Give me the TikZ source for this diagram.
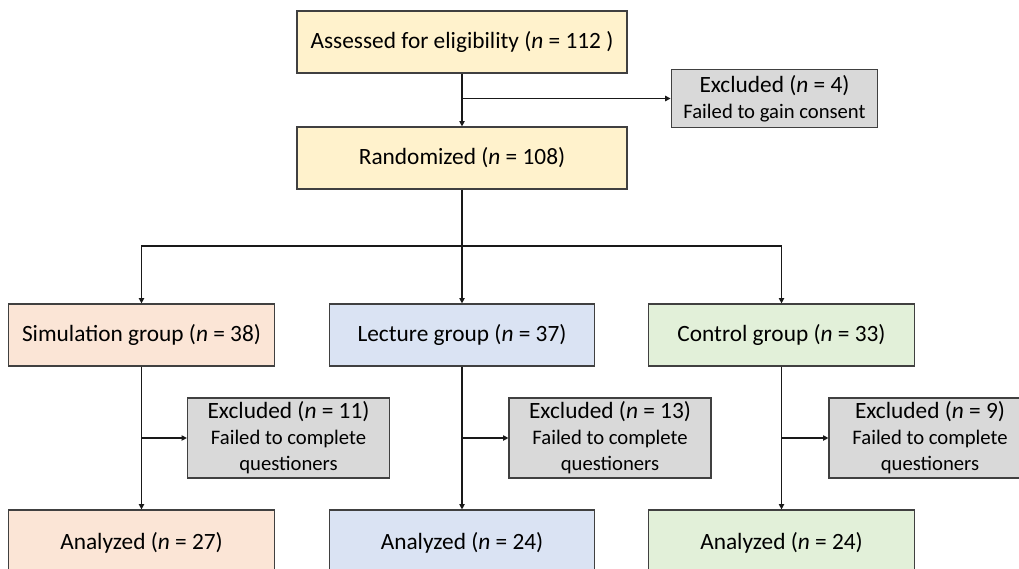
\documentclass[tikz,border=0pt]{standalone}
\usepackage{fontspec}
\setmainfont{Carlito}
\usetikzlibrary{arrows.meta}

\definecolor{boxline}{HTML}{404040}
\definecolor{yellowfill}{HTML}{FFF2CC}
\definecolor{peachfill}{HTML}{FBE5D6}
\definecolor{bluefill}{HTML}{DAE3F3}
\definecolor{greenfill}{HTML}{E2F0D9}
\definecolor{greyfill}{HTML}{D9D9D9}

\newcommand{\subline}[1]{{\fontsize{15.5}{19}\selectfont #1}}

\begin{document}
\begin{tikzpicture}[x=0.75pt,y=-0.75pt,line width=0.9pt,
    box/.style={draw=boxline,inner sep=0pt,align=center,font=\fontsize{17.5}{19.5}\selectfont},
    mainbox/.style={box,fill=yellowfill,minimum width=247.5pt,minimum height=46.5pt},
    groupbox/.style={box,minimum width=199pt,minimum height=46.5pt},
    exclbox/.style={box,fill=greyfill,minimum width=151.5pt,minimum height=60pt},
    link/.style={draw=black!90},
    >={Triangle[length=4pt,width=4pt]}]
    \useasboundingbox (0,0) rectangle (1019,568);
    \clip (0,0) rectangle (1019,568);

    % enrolment
    \node[mainbox] (assess) at (462,42) {Assessed for eligibility (\textit{n} = 112 )};
    \node[mainbox] (rand) at (462,158) {Randomized (\textit{n} = 108)};
    \node[exclbox,minimum width=155pt,minimum height=44pt] (excl) at (774.5,98.5)
        {Excluded (\textit{n} = 4)\\\subline{Failed to gain consent}};

    % allocation
    \node[groupbox,fill=peachfill] (sim) at (141.5,335) {Simulation group (\textit{n} = 38)};
    \node[groupbox,fill=bluefill] (lec) at (462,335) {Lecture group (\textit{n} = 37)};
    \node[groupbox,fill=greenfill] (con) at (781.5,335) {Control group (\textit{n} = 33)};

    % follow-up
    \node[exclbox] (exS) at (288.5,438)
        {Excluded (\textit{n} = 11)\\\subline{Failed to complete}\\\subline{questioners}};
    \node[exclbox] (exL) at (610,438)
        {Excluded (\textit{n} = 13)\\\subline{Failed to complete}\\\subline{questioners}};
    \node[exclbox] (exC) at (930,438)
        {Excluded (\textit{n} = 9)\\\subline{Failed to complete}\\\subline{questioners}};

    % analysis
    \node[groupbox,fill=peachfill,minimum height=49.5pt] (anaS) at (141.5,543) {Analyzed (\textit{n} = 27)};
    \node[groupbox,fill=bluefill,minimum height=49.5pt] (anaL) at (462,543) {Analyzed (\textit{n} = 24)};
    \node[groupbox,fill=greenfill,minimum height=49.5pt] (anaC) at (781.5,543) {Analyzed (\textit{n} = 24)};

    \coordinate (split) at (462,246);

    \draw[link,->] (assess) -- (rand);
    \draw[link,->] (assess.south |- excl.west) -- (excl.west);
    \draw[link] (rand) -- (split);
    \draw[link,->] (split) -- (lec);
    \draw[link,->] (split) -| (sim);
    \draw[link,->] (split) -| (con);

    \draw[link,->] (sim) -- (anaS);
    \draw[link,->] (lec) -- (anaL);
    \draw[link,->] (con) -- (anaC);
    \draw[link,->] (sim.south |- exS.west) -- (exS.west);
    \draw[link,->] (lec.south |- exL.west) -- (exL.west);
    \draw[link,->] (con.south |- exC.west) -- (exC.west);
\end{tikzpicture}
\end{document}
